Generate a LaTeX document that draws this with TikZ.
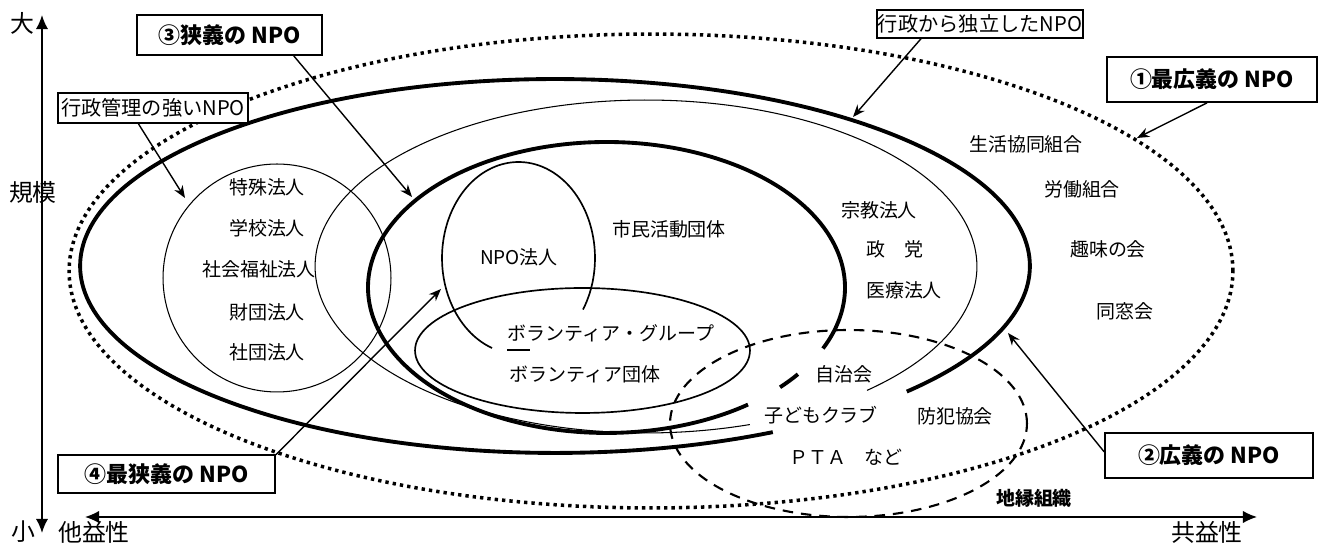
\documentclass[tikz,border=0pt]{standalone}
\usepackage{fontspec}
\setmainfont{Noto Sans CJK JP}
\usetikzlibrary{arrows.meta}
\begin{document}
\begin{tikzpicture}[x=0.02cm,y=0.02cm,
  dotline/.style={line width=2pt,dash pattern=on 1.9pt off 2.3pt},
  thickline/.style={line width=2.2pt},
  thinline/.style={line width=0.6pt},
  midline/.style={line width=0.95pt},
  dashline/.style={line width=1.2pt,dash pattern=on 6pt off 4.5pt},
  txt/.style={font=\fontsize{10.8pt}{12pt}\selectfont,inner sep=0pt},
  axlab/.style={font=\fontsize{13.6pt}{15pt}\selectfont,inner sep=0pt},
  boldbox/.style={draw,line width=1pt,fill=white,inner sep=0pt,font=\bfseries\fontsize{12.5pt}{14pt}\selectfont},
  thinbox/.style={draw,line width=0.8pt,fill=white,inner sep=0pt,font=\fontsize{11.5pt}{13pt}\selectfont},
  ptr/.style={-{Stealth[length=7pt,width=5.5pt]},line width=0.8pt},
  axis/.style={{Latex[length=8pt,width=7pt]}-{Latex[length=8pt,width=7pt]}}
]
\useasboundingbox (0,0) rectangle (1325,546);

% ellipses
\draw[dotline] (651,275) ellipse [x radius=11.64cm, y radius=4.74cm];
\draw[thickline] (555,280) ++(-42.2:9.5cm and 3.74cm)
  arc[start angle=-42.2, end angle=297.3, x radius=9.5cm, y radius=3.74cm];
\draw[thinline] (646,279.5) ++(-48.1:6.62cm and 3.33cm)
  arc[start angle=-48.1, end angle=288.3, x radius=6.62cm, y radius=3.33cm];
\draw[thickline] (606.5,258.5) ++(-24.8:4.77cm and 2.91cm)
  arc[start angle=-24.8, end angle=306.4, x radius=4.77cm, y radius=2.91cm];
\draw[thickline] (606.5,258.5) ++(-36.6:4.77cm and 2.91cm)
  arc[start angle=-36.6, end angle=-43.3, x radius=4.77cm, y radius=2.91cm];
\draw[thinline] (277,268) circle [radius=2.28cm];
\draw[midline] (518.5,288) ++(-32.5:1.53cm and 1.92cm)
  arc[start angle=-32.5, end angle=249.75, x radius=1.53cm, y radius=1.92cm];
\draw[midline] (582.5,195.5) ellipse [x radius=3.35cm, y radius=1.25cm];
\draw[dashline] (848.5,122.5) ellipse [x radius=3.57cm, y radius=1.87cm];

% axes
\coordinate (vtop) at (42,531);
\coordinate (vbot) at (42,13);
\coordinate (hl) at (85,29);
\coordinate (hr) at (1257,29);
\draw[axis,line width=1.1pt] (vbot) -- (vtop);
\draw[axis,line width=0.8pt] (hl) -- (hr);
\node[axlab] (big) at (22,523) {大};
\node[axlab] (scale) at (33,354) {規模};
\node[axlab] (small) at (23,14) {小};
\node[axlab] (tae) at (94,14) {他益性};
\node[axlab] (kyoe) at (1207,14) {共益性};

% inner texts
\node[txt] (t1) at (267,359) {特殊法人};
\node[txt] (t2) at (267,318) {学校法人};
\node[txt] (t3) at (259,277) {社会福祉法人};
\node[txt] (t4) at (267,234) {財団法人};
\node[txt] (t5) at (267,194) {社団法人};
\node[txt] (npo) at (519,289) {NPO法人};
\node[txt] (shimin) at (669,317) {市民活動団体};
\node[txt] (volg) at (611,213) {ボランティア・グループ};
\node[txt] (vold) at (585,172) {ボランティア団体};
\coordinate (da) at (507,196);
\coordinate (db) at (530,196);
\draw[line width=0.9pt] (da) -- (db);
\node[txt] (shukyo) at (879,336) {宗教法人};
\node[txt] (seito) at (895,297) {政　党};
\node[txt] (iryo) at (904,256) {医療法人};
\node[txt] (seikyo) at (1026,402) {生活協同組合};
\node[txt] (rodo) at (1082,357) {労働組合};
\node[txt] (shumi) at (1108,297) {趣味の会};
\node[txt] (doso) at (1125,235) {同窓会};
\node[txt] (jichi) at (844,172) {自治会};
\node[txt] (kodomo) at (821,131) {子どもクラブ};
\node[txt] (bohan) at (955,130) {防犯協会};
\node[txt] (pta) at (846,89) {ＰＴＡ　など};
\node[txt,font=\bfseries\fontsize{10.8pt}{12pt}\selectfont] (chien) at (1034,48) {地縁組織};

% label boxes
\node[boldbox,minimum width=3.7cm,minimum height=0.8cm] (lab3) at (229.5,511) {③狭義の NPO};
\node[thinbox,minimum width=3.8cm,minimum height=0.6cm] (labK) at (153,438) {行政管理の強いNPO};
\node[thinbox,minimum width=4.12cm,minimum height=0.56cm] (labD) at (980,522) {行政から独立したNPO};
\node[boldbox,minimum width=4.2cm,minimum height=0.9cm] (lab1) at (1212,466.5) {①最広義の NPO};
\node[boldbox,minimum width=4.16cm,minimum height=0.9cm] (lab2) at (1209,90.5) {②広義の NPO};
\node[boldbox,minimum width=4.34cm,minimum height=0.76cm] (lab4) at (166.5,72) {④最狭義の NPO};

% pointer targets
\coordinate (p3) at (412,349);
\coordinate (pK) at (185,348);
\coordinate (pD) at (853,429);
\coordinate (p1) at (1137,408);
\coordinate (p2) at (1008,213);
\coordinate (p4) at (441,257);
\draw[ptr] (lab3.-18) -- (p3);
\draw[ptr] (labK.-133) -- (pK);
\draw[ptr] (labD.-166) -- (pD);
\draw[ptr] (lab1.-102) -- (p1);
\draw[ptr] (lab2.178.6) -- (p2);
\draw[ptr] (lab4.10.6) -- (p4);
\end{tikzpicture}
\end{document}
